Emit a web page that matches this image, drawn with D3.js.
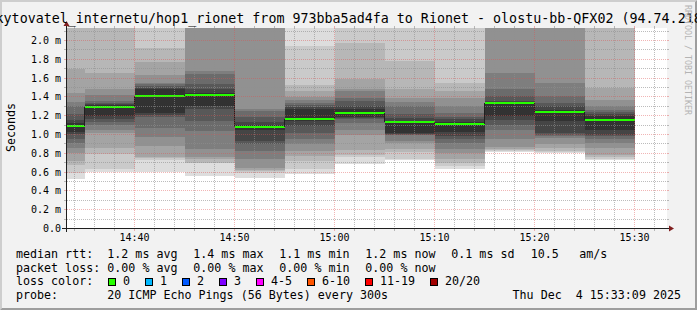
<!DOCTYPE html>
<html>
<head>
<meta charset="utf-8">
<script src="https://cdn.jsdelivr.net/npm/d3@7"></script>
<style>
  html, body { margin: 0; padding: 0; background: #f2f2f2; }
  svg { display: block; }
  text { font-family: "DejaVu Sans Mono", monospace; white-space: pre; }
</style>
</head>
<body>
<svg id="chart" width="697" height="310"></svg>
<script>
// smokeping data, 5 min steps, ping times in ms (20 pings per step, sorted)
const day = '2025-12-04';
const viewStart = '14:33:15';
const viewEnd = '15:33:15';
const binEnds = ['14:35', '14:40', '14:45', '14:50', '14:55', '15:00', '15:05', '15:10', '15:15', '15:20', '15:25', '15:30'];
const pings = [
  [0.529, 0.593, 0.671, 0.718, 0.806, 0.860, 0.913, 0.956, 1.002, 1.027, 1.126, 1.151, 1.215, 1.304, 1.347, 1.446, 1.702, 2.30, 2.50, 2.80],
  [0.605, 0.630, 0.790, 0.860, 1.020, 1.050, 1.100, 1.130, 1.160, 1.200, 1.310, 1.325, 1.340, 1.357, 1.418, 1.482, 1.659, 2.25, 2.45, 2.70],
  [0.603, 0.728, 0.745, 0.763, 0.880, 0.977, 1.066, 1.190, 1.210, 1.226, 1.482, 1.500, 1.520, 1.540, 1.553, 1.631, 1.766, 1.915, 2.30, 2.60],
  [0.558, 0.693, 0.700, 0.735, 0.760, 0.842, 1.038, 1.144, 1.268, 1.304, 1.446, 1.482, 1.535, 1.642, 1.677, 2.30, 2.50, 2.70, 2.90, 3.20],
  [0.540, 0.593, 0.615, 0.622, 0.646, 0.735, 0.820, 0.895, 0.931, 1.048, 1.098, 1.133, 1.190, 1.250, 1.276, 2.30, 2.50, 2.70, 2.90, 3.20],
  [0.575, 0.629, 0.718, 0.771, 0.824, 0.895, 0.949, 1.020, 1.091, 1.144, 1.269, 1.290, 1.310, 1.340, 1.368, 1.404, 1.464, 1.524, 1.937, 2.30],
  [0.685, 0.760, 0.781, 0.835, 0.995, 1.048, 1.120, 1.170, 1.180, 1.190, 1.270, 1.300, 1.360, 1.393, 1.464, 1.482, 1.588, 1.972, 2.30, 2.60],
  [0.728, 0.735, 0.816, 0.850, 0.905, 0.930, 0.995, 1.000, 1.010, 1.020, 1.144, 1.180, 1.215, 1.304, 1.350, 1.393, 1.482, 1.784, 2.30, 2.60],
  [0.634, 0.670, 0.700, 0.735, 0.800, 0.850, 0.910, 0.950, 0.980, 1.030, 1.130, 1.160, 1.190, 1.226, 1.304, 1.393, 1.464, 1.553, 2.30, 2.60],
  [0.817, 0.825, 0.835, 0.850, 0.870, 0.950, 1.048, 1.100, 1.154, 1.197, 1.350, 1.360, 1.410, 1.482, 1.659, 2.30, 2.50, 2.70, 2.90, 3.20],
  [0.800, 0.810, 0.820, 0.852, 0.900, 0.959, 0.985, 1.000, 1.012, 1.144, 1.260, 1.304, 1.340, 1.410, 1.553, 2.30, 2.50, 2.70, 2.90, 3.20],
  [0.728, 0.742, 0.756, 0.781, 0.860, 0.910, 0.950, 0.980, 1.000, 1.048, 1.200, 1.220, 1.240, 1.261, 1.300, 1.370, 1.500, 2.30, 2.50, 2.80]
];
const medians = [1.092, 1.296, 1.413, 1.424, 1.083, 1.168, 1.232, 1.136, 1.112, 1.335, 1.239, 1.154];

const yMax = 2.133;
const yLabelValues = [0, 0.2, 0.4, 0.6, 0.8, 1.0, 1.2, 1.4, 1.6, 1.8, 2.0];
const yLabels = ['0.0', '0.2 m', '0.4 m', '0.6 m', '0.8 m', '1.0 m', '1.2 m', '1.4 m', '1.6 m', '1.8 m', '2.0 m'];

const rttStats = ['1.2 ms avg', '1.4 ms max', '1.1 ms min', '1.2 ms now', '0.1 ms sd'];
const lossStats = ['0.00 % avg', '0.00 % max', '0.00 % min', '0.00 % now'];
const amPerSec = ['10.5', 'am/s'];
const lossLabels = ['0', '1', '2', '3', '4-5', '6-10', '11-19', '20/20'];
const lossColors = ['#26ff00', '#00b8ff', '#0059ff', '#7e00ff', '#ff00ff', '#ff5500', '#ff0000', '#a10000'];
const probeText = '20 ICMP Echo Pings (56 Bytes) every 300s';
const stamp = 'Thu Dec  4 15:33:09 2025';
const title = 'Poskytovatel_internetu/hop1_rionet from 973bba5ad4fa to Rionet - olostu-bb-QFX02 (94.74.218';

const svg = d3.select('#chart');
const W = 697, H = 310;
const X0 = 66, X1 = 667, Y0 = 228, Y1 = 28;

const parseTime = d3.timeParse('%Y-%m-%d %H:%M:%S');
const t = s => parseTime(day + ' ' + (s.length === 5 ? s + ':00' : s));

const x = d3.scaleTime().domain([t(viewStart), t(viewEnd)]).range([67, 667]);
const y = d3.scaleLinear().domain([0, yMax]).range([228.5, 28]);

// background + 3d frame
svg.append('rect').attr('width', W).attr('height', H).attr('fill', '#f2f2f2');
svg.append('path').attr('d', `M0,${H} L0,0 L${W},0 L${W - 2},2 L2,2 L2,${H - 2} Z`).attr('fill', '#cecece');
svg.append('path').attr('d', `M${W},0 L${W},${H} L0,${H} L2,${H - 2} L${W - 2},${H - 2} L${W - 2},2 Z`).attr('fill', '#9e9e9e');

svg.append('rect').attr('x', 67).attr('y', Y1).attr('width', 600).attr('height', Y0 - Y1 + 0.5).attr('fill', '#fff');

svg.append('clipPath').attr('id', 'canvas')
  .append('rect').attr('x', 67).attr('y', Y1).attr('width', 600).attr('height', Y0 - Y1);

// smoke
const half = 10;
const smoke = svg.append('g').attr('clip-path', 'url(#canvas)').attr('shape-rendering', 'crispEdges');
binEnds.forEach((e, i) => {
  const x1 = x(t(e));
  const x0 = x(d3.timeSecond.offset(t(e), -300));
  const p = pings[i];
  for (let ibot = 1, itop = p.length; ibot < itop; ibot++, itop--) {
    const c = Math.floor(190 / half * (half - ibot)) + 50;
    smoke.append('rect')
      .attr('x', x0).attr('width', x1 - x0)
      .attr('y', y(p[itop - 1]))
      .attr('height', y(p[ibot - 1]) - y(p[itop - 1]))
      .attr('fill', d3.rgb(c, c, c));
  }
});

// median
const med = svg.append('g').attr('clip-path', 'url(#canvas)').attr('shape-rendering', 'crispEdges');
binEnds.forEach((e, i) => {
  const x1 = x(t(e));
  const x0 = x(d3.timeSecond.offset(t(e), -300));
  if (i > 0) {
    med.append('line')
      .attr('x1', x0).attr('x2', x0)
      .attr('y1', y(medians[i - 1])).attr('y2', y(medians[i]))
      .attr('stroke', '#202020').attr('stroke-width', 1);
  }
  med.append('line')
    .attr('x1', x0).attr('x2', x1)
    .attr('y1', y(medians[i])).attr('y2', y(medians[i]))
    .attr('stroke', lossColors[0]).attr('stroke-width', 2);
});

// grid
const gridMinor = 'rgba(143,143,143,0.6)';
const gridMajor = 'rgba(222,79,79,0.42)';
const grid = svg.append('g').attr('shape-rendering', 'crispEdges');

const yMinor = d3.range(1, 22).map(d => d / 10).filter(d => d <= yMax);
yMinor.forEach(v => {
  const major = Math.round(v * 10) % 2 === 0;
  const col = major ? gridMajor : gridMinor;
  const yy = Math.floor(y(v)) + 0.5;
  grid.append('line').attr('x1', 67).attr('x2', X1).attr('y1', yy).attr('y2', yy)
    .attr('stroke', col).attr('stroke-dasharray', '1,1');
  grid.append('line').attr('x1', X0 - 2).attr('x2', X0).attr('y1', yy).attr('y2', yy).attr('stroke', col);
  grid.append('line').attr('x1', X1).attr('x2', X1 + 2).attr('y1', yy).attr('y2', yy).attr('stroke', col);
});

x.ticks(d3.timeMinute.every(2)).forEach(d => {
  const major = d.getMinutes() % 10 === 0;
  const col = major ? gridMajor : gridMinor;
  const xx = Math.floor(x(d)) + 0.5;
  grid.append('line').attr('x1', xx).attr('x2', xx).attr('y1', Y1).attr('y2', Y0)
    .attr('stroke', col).attr('stroke-dasharray', '1,1');
  grid.append('line').attr('x1', xx).attr('x2', xx).attr('y1', Y1 - 2).attr('y2', Y1).attr('stroke', col);
  grid.append('line').attr('x1', xx).attr('x2', xx).attr('y1', Y0 + 0.5).attr('y2', Y0 + 2.5).attr('stroke', col);
});

// axes + arrows
svg.append('line').attr('x1', X0 - 4).attr('x2', X1 + 4).attr('y1', Y0 + 0.5).attr('y2', Y0 + 0.5)
  .attr('stroke', '#1f1f1f').attr('shape-rendering', 'crispEdges');
svg.append('line').attr('x1', X0 + 0.5).attr('x2', X0 + 0.5).attr('y1', Y0 + 4).attr('y2', Y1 - 4)
  .attr('stroke', '#1f1f1f').attr('shape-rendering', 'crispEdges');
svg.append('path').attr('d', `M${X1 + 2},${Y0 - 2.5} L${X1 + 7},${Y0 + 0.5} L${X1 + 2},${Y0 + 3.5} Z`).attr('fill', '#801f1f');
svg.append('path').attr('d', `M${X0 - 2.5},${Y1 - 2} L${X0 + 0.5},${Y1 - 7} L${X0 + 3.5},${Y1 - 2} Z`).attr('fill', '#801f1f');

// tick labels
svg.append('g').selectAll('text').data(yLabelValues).join('text')
  .attr('x', 61).attr('y', d => Math.floor(y(d)) + 0.5).attr('dy', '0.36em')
  .attr('text-anchor', 'end').attr('font-size', 10)
  .text((d, i) => yLabels[i]);

const fmt = d3.timeFormat('%H:%M');
svg.append('g').selectAll('text').data(x.ticks(d3.timeMinute.every(10))).join('text')
  .attr('x', d => Math.floor(x(d)) + 0.5).attr('y', 240.5)
  .attr('text-anchor', 'middle').attr('font-size', 10)
  .text(d => fmt(d));

// titles (the title is wider than the image, like in the original)
svg.append('text').attr('x', -28.5).attr('y', 23).attr('font-size', 13.34).text(title);
svg.append('text').attr('transform', 'translate(15,127.5) rotate(-90)')
  .attr('text-anchor', 'middle').attr('font-size', 11.66).text('Seconds');
svg.append('text').attr('transform', 'translate(684.5,5) rotate(90)')
  .attr('font-size', 8.3).attr('fill', '#b4b4b4').text('RRDTOOL / TOBI OETIKER');

// legend
const fs = 11.66, cw = fs * 0.60205;
const rows = [258, 271.7, 285.4, 299.1];
const lg = svg.append('g').attr('font-size', fs);
lg.append('text').attr('x', 16).attr('y', rows[0]).text('median rtt:');
rttStats.forEach((s, i) => lg.append('text').attr('x', 107.3 + i * 86).attr('y', rows[0]).text(s));
lg.append('text').attr('x', 530.7).attr('y', rows[0]).text(amPerSec[0]);
lg.append('text').attr('x', 579.3).attr('y', rows[0]).text(amPerSec[1]);

lg.append('text').attr('x', 16).attr('y', rows[1]).text('packet loss:');
lossStats.forEach((s, i) => lg.append('text').attr('x', 107.3 + i * 86).attr('y', rows[1]).text(s));

lg.append('text').attr('x', 16).attr('y', rows[2]).text('loss color:');
let bx = 108;
lossLabels.forEach((s, i) => {
  lg.append('rect').attr('x', bx + 0.5).attr('y', rows[2] - 6.5).attr('width', 7).attr('height', 7)
    .attr('fill', lossColors[i]).attr('stroke', '#000').attr('shape-rendering', 'crispEdges');
  lg.append('text').attr('x', bx + 15).attr('y', rows[2]).text(s);
  bx = Math.round(bx + 15 + s.length * cw + 15);
});

lg.append('text').attr('x', 16).attr('y', rows[3]).text('probe:');
lg.append('text').attr('x', 107.3).attr('y', rows[3]).text(probeText);
lg.append('text').attr('x', 681).attr('y', rows[3]).attr('text-anchor', 'end').text(stamp);
</script>
</body>
</html>
